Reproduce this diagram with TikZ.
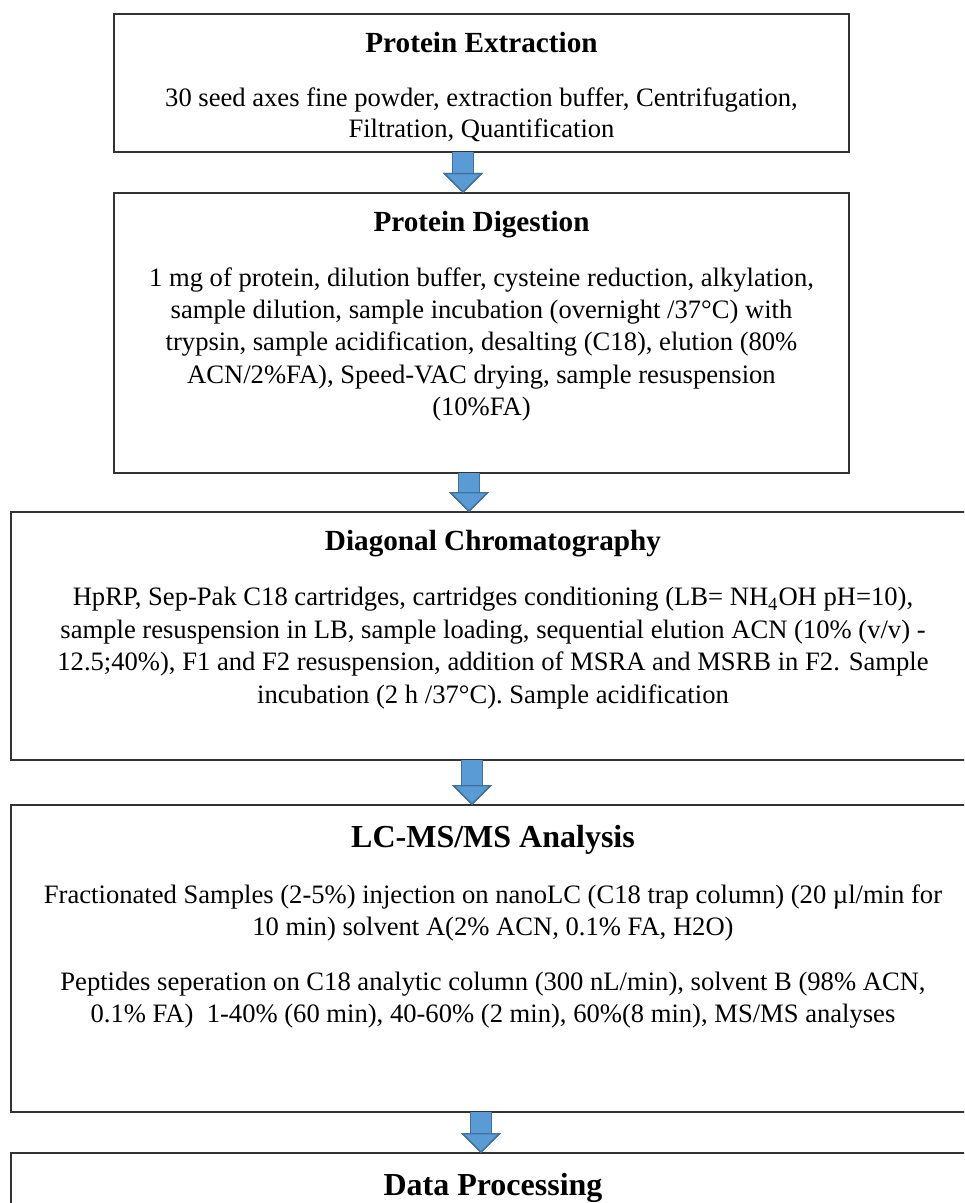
\documentclass[tikz,border=0pt]{standalone}
\usepackage{fontspec}
\setmainfont{Liberation Serif}
\usetikzlibrary{arrows.meta, positioning}

\definecolor{arrowblue}{HTML}{5B9BD5}
\definecolor{arrowedge}{HTML}{41719C}

\begin{document}
\begin{tikzpicture}[
    node distance=20.5pt,
    box/.style={rectangle, draw=black!80, line width=0.9pt, minimum width=367.5pt, 
                inner sep=0pt, outer sep=0pt},
    widebox/.style={box, minimum width=482pt},
    title/.style={font=\fontsize{14.6}{17}\selectfont\bfseries, inner sep=0pt, anchor=base},
    bigtitle/.style={title, font=\fontsize{16}{19}\selectfont\bfseries},
    body/.style={font=\fontsize{13.3}{16.2}\selectfont, align=center, inner sep=0pt, anchor=north},
    arrow/.style={line width=10pt, draw=arrowblue,
                  -{Triangle[width=20pt, length=10pt, line width=0.7pt, fill=arrowblue, color=arrowedge]},
                  preaction={draw=arrowedge, line width=11.4pt,
                  -{Triangle[width=20pt, length=10pt, line width=0.7pt, fill=arrowblue, color=arrowedge]}}}
]

\path[use as bounding box] (0,0) rectangle (482pt,-601.5pt);
\clip (0,0) rectangle (482pt,-601.5pt);

\node[box, minimum height=69pt] (ext) at (240.75pt,-41.5pt) {};
\node[below=19.5pt of ext.north, title] (extT) {Protein Extraction};
\node[below=35.2pt of ext.north, body, font=\fontsize{13.3}{15.5}\selectfont] (extB) 
    {\strut 30 seed axes fine powder, extraction buffer, Centrifugation,\\ Filtration, Quantification};

\node[box, minimum height=140pt, below=of ext] (dig) {};
\node[below=19.5pt of dig.north, title] (digT) {Protein Digestion};
\node[below=35pt of dig.north, body] (digB) 
    {\strut 1 mg of protein, dilution buffer, cysteine reduction, alkylation,\\ 
     sample dilution, sample incubation (overnight /37°C) with\\ 
     trypsin, sample acidification, desalting (C18), elution (80\%\\ 
     ACN/2\%FA), Speed-VAC drying, sample resuspension\\ 
     (10\%FA)};

\node[widebox, minimum height=124pt, below=19.5pt of dig, xshift=5.75pt] (chrom) {};
\node[below=19pt of chrom.north, title] (chromT) {Diagonal Chromatography};
\node[below=35.4pt of chrom.north, body] (chromB) 
    {\strut HpRP, Sep-Pak C18 cartridges, cartridges conditioning (LB= NH\textsubscript{4}OH pH=10),\\ 
     sample resuspension in LB, sample loading, sequential elution ACN (10\% (v/v) -\\ 
     12.5;40\%), F1 and F2 resuspension, addition of MSRA and MSRB in F2. Sample\\ 
     incubation (2 h /37°C). Sample acidification};

\node[widebox, minimum height=153.5pt, below=22.5pt of chrom] (lcms) {};
\node[below=21pt of lcms.north, bigtitle] (lcmsT) {LC-MS/MS Analysis};
\node[below=37.7pt of lcms.north, body] (lcmsA) 
    {\strut Fractionated Samples (2-5\%) injection on nanoLC (C18 trap column) (20 µl/min for\\ 
     10 min) solvent A(2\% ACN, 0.1\% FA, H2O)};
\node[below=81.2pt of lcms.north, body] (lcmsB) 
    {\strut Peptides seperation on C18 analytic column (300 nL/min), solvent B (98\% ACN,\\ 
     0.1\% FA)~ 1-40\% (60 min), 40-60\% (2 min), 60\%(8 min), MS/MS analyses};

\node[widebox, minimum height=100pt, below=of lcms] (data) {};
\node[below=21pt of data.north, bigtitle] (dataT) {Data Processing};

% Arrows
\draw[arrow] ([xshift=-9.25pt]ext.south) -- ([xshift=-9.25pt]ext.south |- dig.north);
\draw[arrow] ([xshift=-6.25pt]dig.south) -- ([xshift=-6.25pt]dig.south |- chrom.north);
\draw[arrow] ([xshift=-10.5pt]chrom.south) -- ([xshift=-10.5pt]chrom.south |- lcms.north);
\draw[arrow] ([xshift=-6pt]lcms.south) -- ([xshift=-6pt]lcms.south |- data.north);

\end{tikzpicture}
\end{document}
